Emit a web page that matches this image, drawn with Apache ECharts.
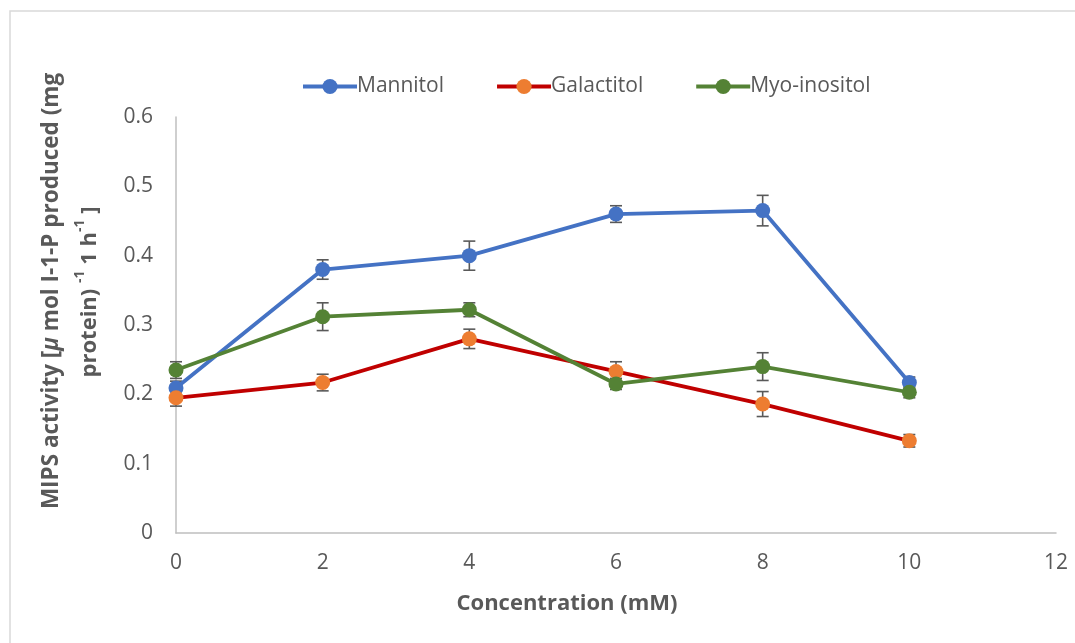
<!DOCTYPE html>
<html>
<head>
<meta charset="utf-8">
<style>
  html, body { margin: 0; padding: 0; background: #ffffff; }
  #chart { width: 1075px; height: 643px; }
</style>
<script src="https://cdn.jsdelivr.net/npm/echarts@6/dist/echarts.min.js"></script>
</head>
<body>
<div id="chart"></div>
<script>
// Sugar alcohol concentration (mM)
const concentrations = [0, 2, 4, 6, 8, 10];

// MIPS activity means and standard errors per treatment
const mannitol      = [0.209, 0.380, 0.400, 0.460, 0.465, 0.217];
const mannitolErr   = [0.010, 0.014, 0.021, 0.012, 0.022, 0.008];
const galactitol    = [0.195, 0.217, 0.280, 0.233, 0.186, 0.133];
const galactitolErr = [0.012, 0.012, 0.014, 0.014, 0.018, 0.009];
const myoInositol   = [0.235, 0.312, 0.322, 0.215, 0.240, 0.203];
const myoInositolErr= [0.012, 0.020, 0.010, 0.008, 0.020, 0.008];

const xTicks = { min: 0, max: 12, interval: 2 };
const yTicks = { min: 0, max: 0.6, interval: 0.1 };

const FONT = '"Open Sans", "Noto Sans", sans-serif';
const TEXT = '#595959';

function points(values) {
  return concentrations.map((c, i) => [c, values[i]]);
}
function errorRanges(values, errs) {
  return concentrations.map((c, i) => [c, values[i] - errs[i], values[i] + errs[i]]);
}

// Whisker with caps, drawn behind the markers
function renderError(params, api) {
  const x = api.value(0);
  const lo = api.coord([x, api.value(1)]);
  const hi = api.coord([x, api.value(2)]);
  const half = 6;
  const style = { stroke: '#595959', lineWidth: 1.6 };
  return {
    type: 'group',
    children: [
      { type: 'line', shape: { x1: lo[0], y1: lo[1], x2: hi[0], y2: hi[1] }, style },
      { type: 'line', shape: { x1: lo[0] - half, y1: lo[1], x2: lo[0] + half, y2: lo[1] }, style },
      { type: 'line', shape: { x1: hi[0] - half, y1: hi[1], x2: hi[0] + half, y2: hi[1] }, style }
    ]
  };
}

function lineSeries(name, values, lineColor, markerColor) {
  return {
    name,
    type: 'line',
    data: points(values),
    symbol: 'circle',
    symbolSize: 15,
    z: 3,
    lineStyle: { color: lineColor, width: 3.8 },
    itemStyle: { color: markerColor },
    emphasis: { disabled: true }
  };
}
function errorSeries(values, errs) {
  return {
    type: 'custom',
    renderItem: renderError,
    data: errorRanges(values, errs),
    encode: { x: 0, y: [1, 2] },
    z: 2,
    silent: true,
    clip: false
  };
}

const chart = echarts.init(document.getElementById('chart'));
chart.setOption({
  animation: false,
  backgroundColor: '#ffffff',
  textStyle: { fontFamily: FONT },
  grid: { left: 176, right: 19, top: 117, bottom: 110, containLabel: false },
  legend: {
    left: 296,
    top: 71,
    itemWidth: 54,
    itemHeight: 19,
    itemGap: 51,
    lineStyle: { width: 4 },
    textStyle: { color: TEXT, fontSize: 21, fontFamily: FONT, padding: [0, 0, 0, -5] },
    data: ['Mannitol', 'Galactitol', 'Myo-inositol']
  },
  xAxis: {
    type: 'value',
    min: xTicks.min,
    max: xTicks.max,
    interval: xTicks.interval,
    axisLine: { show: true, lineStyle: { color: '#BFBFBF', width: 1.5 } },
    axisTick: { show: false },
    splitLine: { show: false },
    axisLabel: { color: TEXT, fontSize: 21, margin: 20, fontFamily: FONT }
  },
  yAxis: {
    type: 'value',
    min: yTicks.min,
    max: yTicks.max,
    interval: yTicks.interval,
    axisLine: { show: true, lineStyle: { color: '#BFBFBF', width: 1.5 } },
    axisTick: { show: false },
    splitLine: { show: false },
    axisLabel: { color: TEXT, fontSize: 21, margin: 23, fontFamily: FONT }
  },
  graphic: [
    {
      type: 'rect',
      silent: true,
      shape: { x: 10, y: 11, width: 1300, height: 900 },
      style: { fill: 'none', stroke: '#D9D9D9', lineWidth: 1.5 },
      z: -10
    },
    {
      type: 'text',
      x: 567,
      y: 604,
      style: {
        text: 'Concentration (mM)',
        fill: TEXT,
        font: 'bold 22px ' + FONT,
        textAlign: 'center',
        textVerticalAlign: 'middle'
      }
    },
    {
      type: 'text',
      x: 52,
      y: 291,
      rotation: Math.PI / 2,
      style: {
        text: '{b|MIPS activity [}{i|μ}{b| mol I-1-P produced (mg}',
        fill: TEXT,
        textAlign: 'center',
        textVerticalAlign: 'middle',
        rich: {
          b: { fontFamily: FONT, fontWeight: 'bold', fontSize: 22.5, fill: TEXT },
          i: { fontFamily: FONT, fontWeight: 'bold', fontStyle: 'italic', fontSize: 22.5, fill: TEXT }
        }
      }
    },
    {
      type: 'text',
      x: 87,
      y: 292,
      rotation: Math.PI / 2,
      style: {
        text: '{b|protein) }{s|-1}{b| 1 h}{s|-1}{b| ]}',
        fill: TEXT,
        textAlign: 'center',
        textVerticalAlign: 'middle',
        rich: {
          b: { fontFamily: FONT, fontWeight: 'bold', fontSize: 22, lineHeight: 28, fill: TEXT, verticalAlign: 'bottom' },
          s: { fontFamily: FONT, fontWeight: 'bold', fontSize: 14, lineHeight: 28, fill: TEXT, verticalAlign: 'top' }
        }
      }
    }
  ],
  series: [
    errorSeries(mannitol, mannitolErr),
    errorSeries(galactitol, galactitolErr),
    errorSeries(myoInositol, myoInositolErr),
    lineSeries('Mannitol', mannitol, '#4472C4', '#4472C4'),
    lineSeries('Galactitol', galactitol, '#C00000', '#ED7D31'),
    lineSeries('Myo-inositol', myoInositol, '#548235', '#548235')
  ]
});
</script>
</body>
</html>
